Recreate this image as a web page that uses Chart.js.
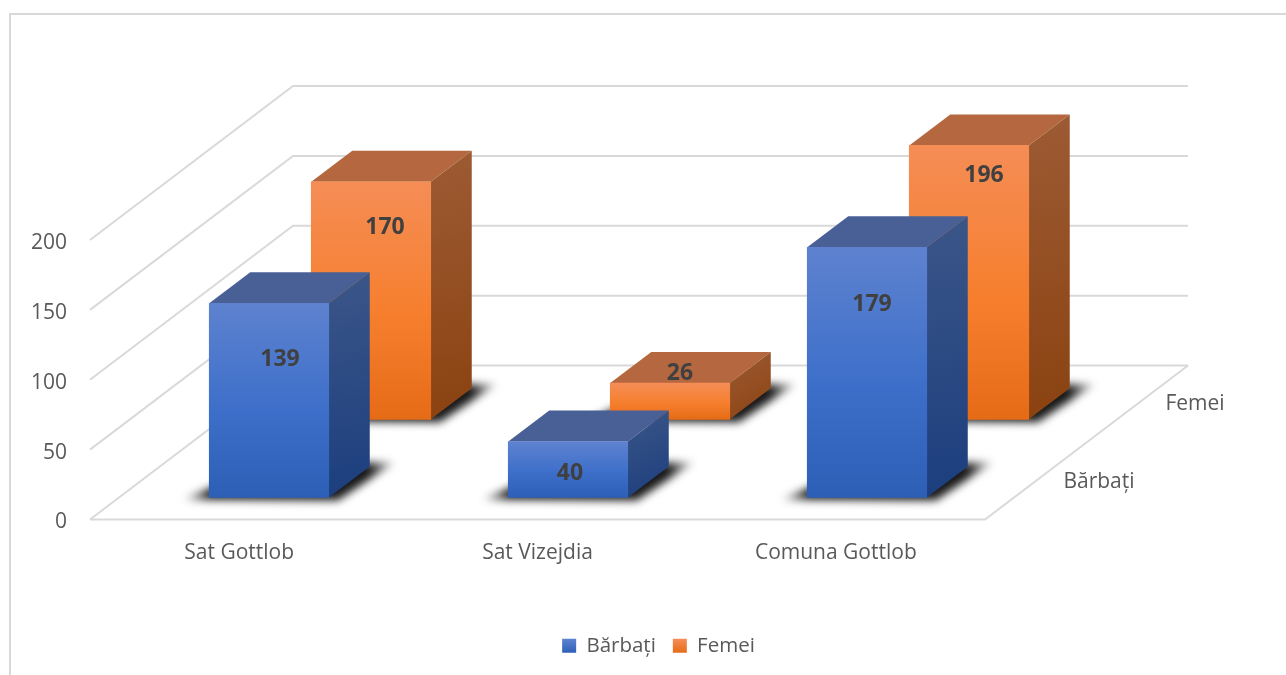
<!DOCTYPE html>
<html>
<head>
<meta charset="utf-8">
<style>html,body{margin:0;padding:0;background:#fff}canvas{display:block}</style>
<script src="https://cdn.jsdelivr.net/npm/chart.js@4/dist/chart.umd.min.js"></script>
</head>
<body>
<canvas id="c" width="1286" height="675"></canvas>
<script>
const categories = ["Sat Gottlob", "Sat Vizejdia", "Comuna Gottlob"];
const seriesNames = ["Bărbați", "Femei"];
const barbati = [139, 40, 179];
const femei = [170, 26, 196];
const yTicks = [0, 50, 100, 150, 200];

const FONT = '"Open Sans", sans-serif';
const TEXT = '#595959';
const GRID = '#d9d9d9';
const PX_PER_UNIT = 279 / 200;
const SPACING = 299;
const AREA_L = 90, AREA_R = 985;
const WALL = { dx: 203, dy: -154 };   // depth of the floor
const BOX = { dx: 41, dy: -31 };      // depth of a bar
const STYLE = [
  { front: ['#5e82cf', '#3d6fca', '#2d5fb6'], top: '#486096', side: ['#3b5688', '#1c3e7e'] },
  { front: ['#f58d56', '#f67f2e', '#e66b17'], top: '#b5683f', side: ['#9d5b34', '#8a4210'] }
];
// label placement relative to the top of each front face
const LABEL_NUDGE = [
  [[11, 56], [2, 32], [5, 57]],
  [[14, 46], [10, -10], [15, 30]]
];

function frontFill(si) {
  return function (ctx) {
    const st = STYLE[si];
    if (ctx.type !== 'data') return st.front[1];
    const meta = ctx.chart.getDatasetMeta(si);
    const ys = ctx.chart.scales[meta.yAxisID];
    const top = ys.getPixelForValue(ctx.parsed.y), base = ys.getPixelForValue(0);
    const g = ctx.chart.ctx.createLinearGradient(0, top, 0, base);
    g.addColorStop(0, st.front[0]); g.addColorStop(0.55, st.front[1]); g.addColorStop(1, st.front[2]);
    return g;
  };
}

const threeD = {
  id: 'threeD',
  beforeDraw(chart) {
    const c = chart.ctx;
    c.save();
    c.strokeStyle = GRID; c.lineWidth = 2;
    c.beginPath(); c.moveTo(10, 675); c.lineTo(10, 14); c.lineTo(1286, 14); c.stroke();
    c.restore();
  },
  beforeDatasetsDraw(chart) {
    const c = chart.ctx, y = chart.scales.y, a = chart.chartArea;
    c.save();
    c.strokeStyle = GRID; c.lineWidth = 2; c.lineJoin = 'miter';
    y.ticks.forEach(t => {
      const p = y.getPixelForValue(t.value);
      c.beginPath();
      c.moveTo(a.left, p); c.lineTo(a.left + WALL.dx, p + WALL.dy); c.lineTo(a.right + WALL.dx, p + WALL.dy);
      c.stroke();
    });
    const p0 = y.getPixelForValue(0);
    c.beginPath();
    c.moveTo(a.left, p0); c.lineTo(a.right, p0); c.lineTo(a.right + WALL.dx, p0 + WALL.dy);
    c.stroke();
    c.restore();
  },
  beforeDatasetDraw(chart, args) {
    const c = chart.ctx, st = STYLE[args.index];
    args.meta.data.forEach(bar => {
      const L = bar.x - bar.width / 2, R = bar.x + bar.width / 2, T = bar.y, B = bar.base;
      // floor shadow
      c.save();
      c.filter = 'blur(4px)';
      const sh = c.createLinearGradient(L - 28, 0, R + 70, 0);
      const w = R + 70 - (L - 28);
      sh.addColorStop(0, 'rgba(0,0,0,0.1)');
      sh.addColorStop(28 / w, 'rgba(0,0,0,0.9)');
      sh.addColorStop((w - 30) / w, 'rgba(0,0,0,0.9)');
      sh.addColorStop(1, 'rgba(0,0,0,0.05)');
      c.fillStyle = sh;
      c.beginPath();
      c.moveTo(L - 26, B + 2); c.lineTo(R + 9, B + 3); c.lineTo(R + 66, B - 35);
      c.lineTo(L + 60, B - 35); c.closePath(); c.fill();
      c.restore();
      // top face
      c.save();
      c.fillStyle = st.top;
      c.beginPath();
      c.moveTo(L, T); c.lineTo(L + BOX.dx, T + BOX.dy); c.lineTo(R + BOX.dx, T + BOX.dy); c.lineTo(R, T);
      c.closePath(); c.fill();
      // side face
      const g = c.createLinearGradient(R, T + BOX.dy, R + BOX.dx, B);
      g.addColorStop(0, st.side[0]); g.addColorStop(1, st.side[1]);
      c.fillStyle = g;
      c.beginPath();
      c.moveTo(R, T); c.lineTo(R + BOX.dx, T + BOX.dy); c.lineTo(R + BOX.dx, B + BOX.dy); c.lineTo(R, B);
      c.closePath(); c.fill();
      c.restore();
    });
  },
  afterDatasetsDraw(chart) {
    const c = chart.ctx;
    c.save();
    c.font = 'bold 23px ' + FONT;
    c.fillStyle = '#404040';
    c.textAlign = 'center'; c.textBaseline = 'middle';
    chart.data.datasets.forEach((ds, si) => {
      chart.getDatasetMeta(si).data.forEach((bar, i) => {
        const n = LABEL_NUDGE[si][i];
        c.fillText(String(ds.data[i].y), bar.x + n[0], bar.y + n[1]);
      });
    });
    // series labels along the depth axis
    const a = chart.chartArea;
    c.font = '21px ' + FONT;
    c.fillStyle = TEXT;
    c.fillText(seriesNames[0], a.right + 114, a.bottom - 37);
    c.fillText(seriesNames[1], a.right + 210, a.bottom - 115);
    c.restore();
  },
  afterLayout(chart) {
    chart.legend.left += 166; chart.legend.right += 166;
  }
};

function hiddenX(offset) {
  return { type: 'linear', axis: 'x', display: false, offset: false, min: (AREA_L - offset) / SPACING, max: (AREA_R - offset) / SPACING };
}
function hiddenY(raise) {
  return { type: 'linear', axis: 'y', display: false, min: -raise / PX_PER_UNIT, max: 200 - raise / PX_PER_UNIT };
}

new Chart(document.getElementById('c'), {
  type: 'bar',
  plugins: [threeD],
  data: {
    datasets: [
      { label: seriesNames[0], data: barbati.map((v, i) => ({ x: i, y: v })), xAxisID: 'xFront', yAxisID: 'yFront', grouped: false,
        backgroundColor: frontFill(0), barThickness: 119.5, clip: false, borderWidth: 0 },
      { label: seriesNames[1], data: femei.map((v, i) => ({ x: i, y: v })), xAxisID: 'xBack', yAxisID: 'yBack', grouped: false,
        backgroundColor: frontFill(1), barThickness: 119.5, clip: false, borderWidth: 0 }
    ]
  },
  options: {
    responsive: false,
    animation: false,
    layout: { padding: { top: 240, left: 0, right: 301, bottom: 9 } },
    font: { family: FONT },
    scales: {
      x: {
        type: 'category', labels: categories, offset: true, position: 'bottom',
        grid: { display: false }, border: { display: false },
        ticks: { color: TEXT, font: { family: FONT, size: 21 }, padding: 13, maxRotation: 0 },
        afterFit(s) { s.height = 99; }
      },
      y: {
        type: 'linear', min: 0, max: 200, position: 'left',
        grid: { display: false }, border: { display: false },
        afterBuildTicks(s) { s.ticks = yTicks.map(v => ({ value: v })); },
        ticks: { color: TEXT, font: { family: FONT, size: 21 }, padding: 15, labelOffset: 3 },
        afterFit(s) { s.width = 90; }
      },
      xFront: hiddenX(269),
      xBack: hiddenX(371),
      yFront: hiddenY(22),
      yBack: hiddenY(100)
    },
    plugins: {
      tooltip: { enabled: false },
      legend: {
        position: 'bottom',
        labels: {
          color: TEXT, font: { family: FONT, size: 20.5 }, boxWidth: 14, boxHeight: 14, padding: 17,
          generateLabels(chart) {
            return chart.data.datasets.map((ds, i) => {
              const g = chart.ctx.createLinearGradient(0, 639, 0, 653);
              g.addColorStop(0, STYLE[i].front[0]); g.addColorStop(1, STYLE[i].front[2]);
              return { text: ds.label, fillStyle: g, strokeStyle: g, lineWidth: 0, datasetIndex: i, fontColor: TEXT };
            });
          }
        }
      }
    }
  }
});
</script>
</body>
</html>
